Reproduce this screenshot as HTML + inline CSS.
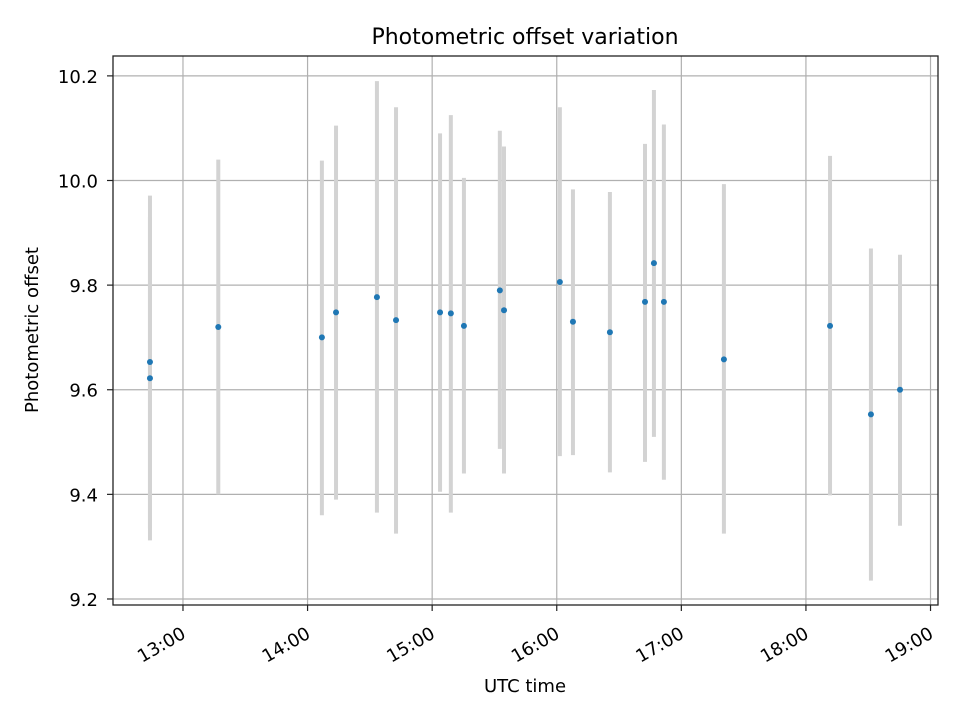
<!DOCTYPE html>
<html><head><meta charset="utf-8"><style>
body{margin:0;background:#fff;}
svg text{font-family:"DejaVu Sans","Liberation Sans",sans-serif;fill:#000;}
</style></head><body>
<svg id="chart" width="960" height="720" xmlns="http://www.w3.org/2000/svg">
<rect width="960" height="720" fill="#fff"/>
<text x="525" y="44" font-size="22" text-anchor="middle">Photometric offset variation</text>
<g id="grid"></g>
<g id="bars"></g>
<g id="pts"></g>
<g id="axes"></g>
<rect x="113" y="56" width="825" height="549" fill="none" stroke="#222" stroke-width="1.3"/>
<text x="525" y="692" font-size="18" text-anchor="middle">UTC time</text>
<text transform="translate(38,330) rotate(-90)" font-size="18" text-anchor="middle">Photometric offset</text>
</svg>
<script>
// times in minutes since midnight UTC
const times=[764.1,764.1,797,846.9,853.7,873.4,882.6,903.8,909,915.3,932.6,934.6,961.5,967.8,985.6,1002.5,1006.8,1011.6,1040.5,1091.6,1111.3,1125.3];
const values=[9.653,9.622,9.72,9.70,9.748,9.777,9.733,9.748,9.746,9.722,9.79,9.752,9.806,9.73,9.71,9.768,9.842,9.768,9.658,9.722,9.553,9.60];
const lows=[9.335,9.312,9.40,9.36,9.39,9.365,9.325,9.405,9.365,9.44,9.487,9.44,9.473,9.475,9.442,9.462,9.51,9.428,9.325,9.398,9.235,9.34];
const highs=[9.971,9.93,10.04,10.038,10.105,10.19,10.14,10.09,10.125,10.005,10.095,10.065,10.14,9.983,9.978,10.07,10.173,10.107,9.993,10.047,9.87,9.858];
const yTicks=[9.2,9.4,9.6,9.8,10.0,10.2];
const xTicks=[780,840,900,960,1020,1080,1140];
const xTickLabels=["13:00","14:00","15:00","16:00","17:00","18:00","19:00"];

const L=113,R=938,T=56,B=605;
const xMin=746.3,xMax=1143.6,yMin=9.1885,yMax=10.238;
const X=v=>L+(v-xMin)/(xMax-xMin)*(R-L);
const Y=v=>B-(v-yMin)/(yMax-yMin)*(B-T);
const NS="http://www.w3.org/2000/svg";
function mk(tag,attrs,parent){const e=document.createElementNS(NS,tag);for(const k in attrs)e.setAttribute(k,attrs[k]);parent.appendChild(e);return e;}
const grid=document.getElementById('grid'),axes=document.getElementById('axes'),bars=document.getElementById('bars'),pts=document.getElementById('pts');
yTicks.forEach(v=>{
  const y=Y(v);
  const g=mk('line',{x1:L,x2:R,y1:y,y2:y,stroke:'#b0b0b0','stroke-width':1.2},grid);
  
  
  const t=mk('line',{x1:L-6,x2:L,y1:y,y2:y,stroke:'#222','stroke-width':1.2},axes);
  
  
  const tx=mk('text',{x:L-15,y:y+7,'font-size':18,'text-anchor':'end'},axes);
  tx.textContent=v.toFixed(1);
  
  
});
xTicks.forEach((v,i)=>{
  const x=X(v);
  const g=mk('line',{x1:x,x2:x,y1:T,y2:B,stroke:'#b0b0b0','stroke-width':1.2},grid);
  
  
  const t=mk('line',{x1:x,x2:x,y1:B,y2:B+6,stroke:'#222','stroke-width':1.2},axes);
  
  
  const tx=mk('text',{transform:`translate(${x+4},${B+32}) rotate(-30)`,'font-size':18,'text-anchor':'end'},axes);
  tx.textContent=xTickLabels[i];
  
  
});
times.forEach((t,i)=>{
  const x=X(t);
  const b=mk('line',{x1:x,x2:x,y1:Y(lows[i]),y2:Y(highs[i]),stroke:'#d3d3d3','stroke-width':4},bars);
  
  
});
times.forEach((t,i)=>{
  const c=mk('circle',{cx:X(t),cy:Y(values[i]),r:3,fill:'#1f77b4'},pts);
  
  
});
</script>
</body></html>
